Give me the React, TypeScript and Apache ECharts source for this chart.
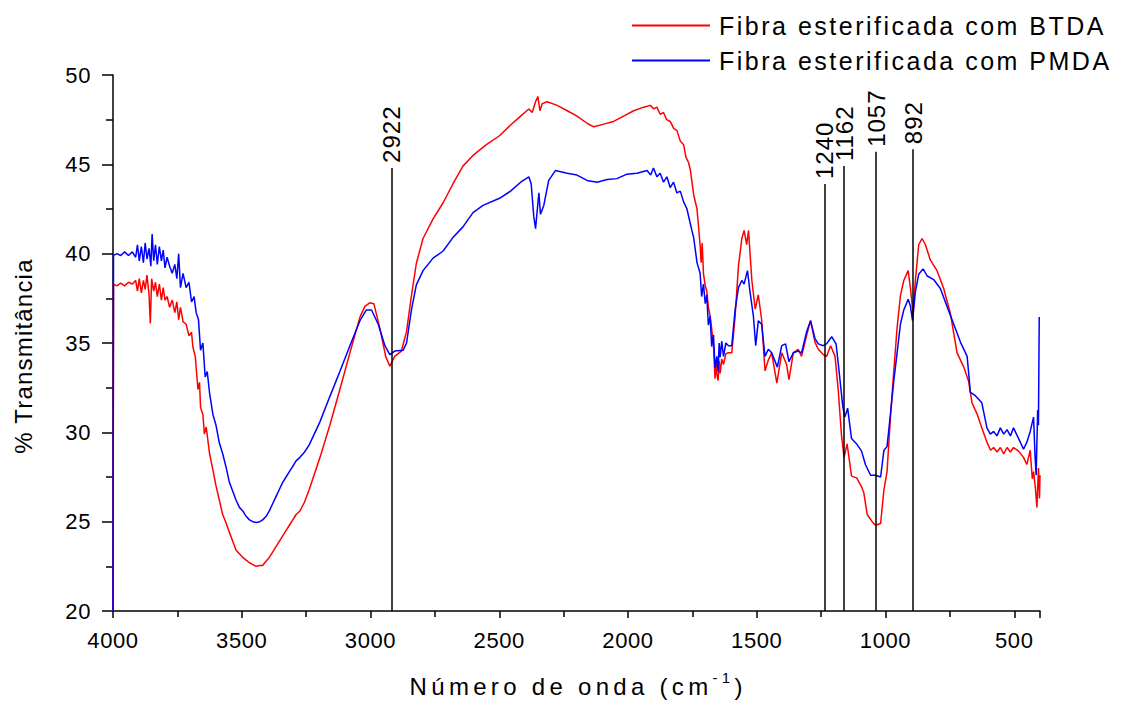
import React, { useEffect, useRef } from 'react';
import * as echarts from 'echarts';

const seriesNames = ['Fibra esterificada com BTDA', 'Fibra esterificada com PMDA'];

const btdaWavenumber = [
  4000, 3998, 3985, 3970, 3955, 3940, 3925, 3912, 3905, 3898, 3890, 3882, 3875, 3868, 3860, 3855, 3850,
  3842, 3835, 3828, 3820, 3812, 3805, 3798, 3790, 3780, 3770, 3760, 3752, 3745, 3738, 3728, 3716, 3705,
  3695, 3690, 3680, 3677, 3670, 3664, 3660, 3651, 3645, 3638, 3625, 3612, 3600, 3587, 3574, 3560, 3548,
  3535, 3522, 3509, 3496, 3483, 3470, 3457, 3444, 3430, 3419, 3405, 3393, 3380, 3367, 3354, 3341, 3328,
  3315, 3302, 3289, 3274, 3256, 3238, 3196, 3158, 3119, 3080, 3041, 3022, 3003, 2987, 2964, 2941, 2925,
  2906, 2880, 2860, 2841, 2822, 2796, 2757, 2718, 2680, 2641, 2602, 2550, 2499, 2456, 2417, 2385, 2372,
  2359, 2350, 2342, 2333, 2314, 2275, 2236, 2198, 2159, 2133, 2094, 2056, 2017, 1978, 1939, 1913, 1900,
  1888, 1875, 1862, 1850, 1836, 1822, 1810, 1797, 1784, 1775, 1765, 1758, 1745, 1732, 1720, 1716, 1712,
  1707, 1700, 1694, 1688, 1681, 1675, 1668, 1662, 1658, 1655, 1650, 1646, 1642, 1636, 1629, 1620, 1610,
  1597, 1584, 1571, 1558, 1549, 1539, 1532, 1519, 1506, 1494, 1481, 1468, 1455, 1442, 1422, 1403, 1384,
  1375, 1358, 1339, 1326, 1306, 1291, 1274, 1261, 1242, 1229, 1213, 1196, 1184, 1171, 1161, 1149, 1132,
  1112, 1093, 1084, 1071, 1052, 1039, 1019, 1006, 994, 981, 968, 955, 942, 929, 912, 903, 893, 884, 871,
  858, 845, 826, 800, 774, 748, 722, 696, 677, 664, 645, 626, 606, 592, 580, 567, 554, 541, 528, 515, 503,
  483, 464, 451, 438, 430, 425, 418, 412, 406, 402, 400,
];
const btdaTransmittance = [
  20, 38.3, 38.2, 38.35, 38.2, 38.4, 38.3, 38.5, 37.9, 38.6, 37.8, 38.5, 38.0, 38.8, 37.7, 36.1, 38.6,
  37.9, 38.4, 37.6, 38.3, 37.4, 38.1, 37.4, 37.6, 37.0, 37.4, 36.7, 37.3, 36.3, 37.0, 36.2, 36.05, 35.4,
  35.6, 34.8, 34.2, 33.6, 32.4, 32.8, 31.4, 31.0, 29.9, 30.3, 28.8, 27.9, 27.0, 26.2, 25.4, 24.9, 24.4,
  23.9, 23.4, 23.2, 23.0, 22.85, 22.7, 22.6, 22.5, 22.55, 22.55, 22.8, 23.0, 23.3, 23.6, 23.9, 24.2, 24.5,
  24.8, 25.1, 25.4, 25.6, 26.1, 26.8, 28.6, 30.4, 32.4, 34.45, 36.45, 37.05, 37.25, 37.2, 35.85, 34.25, 33.7,
  34.25, 34.55, 35.65, 37.65, 39.45, 40.85, 41.95, 42.85, 43.9, 44.9, 45.5, 46.1, 46.6, 47.2, 47.7, 48.1, 47.9,
  48.5, 48.8, 48.0, 48.4, 48.5, 48.3, 48.0, 47.7, 47.3, 47.1, 47.25, 47.4, 47.7, 48.0, 48.2, 48.3, 48.1,
  48.2, 47.8, 47.9, 47.5, 47.4, 47.0, 46.9, 46.3, 46.1, 45.4, 45.1, 44.7, 43.3, 42.5, 40.5, 39.5, 40.6,
  38.9, 38.2, 37.9, 37.0, 36.5, 35.8, 34.85, 33.0, 34.0, 33.25, 32.9, 34.0, 33.3, 34.1, 33.8, 34.4, 34.45,
  34.45, 36.5, 39.3, 40.85, 41.3, 40.5, 41.3, 38.5, 36.9, 37.7, 36.3, 33.45, 34.05, 34.45, 32.75, 34.45, 33.8,
  32.95, 34.45, 34.65, 34.25, 35.45, 36.25, 35.05, 34.65, 34.35, 34.25, 34.85, 34.25, 32.45, 29.85, 28.6, 29.35, 27.55,
  27.45, 26.95, 26.6, 25.4, 25.0, 24.8, 24.9, 26.8, 27.8, 30.8, 33.4, 35.85, 37.65, 38.5, 39.05, 38.05, 36.65, 38.5, 40.5,
  40.85, 40.5, 39.65, 39.05, 38.05, 36.65, 34.45, 33.65, 32.85, 31.65, 31.05, 30.25, 29.45, 29.0, 29.15, 28.9, 29.15, 28.8, 29.15, 28.9, 29.15,
  28.95, 28.6, 28.2, 29.0, 27.4, 27.8, 26.9, 25.8, 28.0, 26.3, 27.6,
];

const pmdaWavenumber = [
  4000, 3998, 3985, 3970, 3955, 3940, 3925, 3912, 3905, 3898, 3890, 3882, 3875, 3868, 3860, 3853, 3848,
  3842, 3835, 3828, 3820, 3812, 3805, 3798, 3790, 3780, 3770, 3760, 3752, 3745, 3738, 3728, 3716, 3705,
  3695, 3685, 3677, 3668, 3660, 3651, 3642, 3634, 3625, 3612, 3600, 3587, 3574, 3560, 3548, 3535, 3522,
  3509, 3496, 3483, 3470, 3457, 3444, 3430, 3419, 3405, 3393, 3380, 3367, 3354, 3341, 3328, 3315, 3302,
  3289, 3274, 3256, 3238, 3196, 3158, 3119, 3080, 3041, 3016, 2996, 2970, 2944, 2925, 2906, 2873, 2860,
  2841, 2822, 2796, 2757, 2718, 2680, 2641, 2602, 2563, 2499, 2456, 2417, 2385, 2376, 2366, 2359, 2352,
  2346, 2340, 2327, 2308, 2282, 2236, 2198, 2159, 2120, 2081, 2043, 2004, 1965, 1926, 1912, 1901, 1888,
  1875, 1862, 1849, 1836, 1823, 1810, 1797, 1784, 1771, 1760, 1752, 1745, 1732, 1720, 1714, 1707, 1700,
  1694, 1688, 1681, 1675, 1668, 1662, 1655, 1650, 1646, 1642, 1636, 1629, 1620, 1610, 1597, 1584, 1571,
  1558, 1549, 1536, 1526, 1513, 1504, 1494, 1481, 1468, 1455, 1442, 1420, 1403, 1388, 1375, 1358, 1339,
  1326, 1306, 1291, 1274, 1261, 1242, 1229, 1209, 1192, 1179, 1166, 1158, 1147, 1132, 1112, 1093, 1078,
  1058, 1039, 1019, 1006, 994, 981, 968, 955, 942, 929, 912, 903, 895, 884, 871, 854, 838, 813, 787, 761,
  735, 709, 683, 675, 671, 651, 626, 606, 593, 580, 567, 554, 541, 528, 515, 503, 483, 464, 451, 438, 425,
  419, 415, 409, 406, 403,
];
const pmdaTransmittance = [
  20, 39.9, 40.0, 39.9, 40.1, 39.9, 40.1, 39.8, 40.5, 39.6, 40.4, 39.5, 40.6, 39.7, 40.3, 39.3, 41.1,
  39.6, 40.5, 39.4, 40.4, 39.6, 40.2, 39.2, 39.8, 39.3, 38.9, 39.4, 38.6, 40.0, 38.1, 38.9, 38.1, 38.4,
  37.3, 37.6, 36.7, 36.3, 34.6, 35.0, 33.1, 33.4, 32.2, 31.0, 30.4, 29.4, 28.8, 28.0, 27.2, 26.7, 26.2,
  25.8, 25.6, 25.3, 25.1, 25.0, 24.95, 25.0, 25.1, 25.3, 25.6, 26.0, 26.4, 26.8, 27.2, 27.5, 27.8, 28.1,
  28.4, 28.6, 28.9, 29.3, 30.6, 32.0, 33.4, 34.85, 36.25, 36.85, 36.85, 36.05, 34.85, 34.35, 34.55, 34.6, 35.0,
  36.85, 38.25, 39.05, 39.75, 40.15, 40.9, 41.5, 42.3, 42.7, 43.1, 43.5, 44.0, 44.3, 43.9, 42.1, 41.4, 42.5,
  43.4, 42.2, 42.7, 44.1, 44.65, 44.5, 44.4, 44.1, 44.0, 44.15, 44.2, 44.45, 44.5, 44.65, 44.4, 44.8, 44.3,
  44.5, 44.0, 44.3, 43.7, 44.0, 43.4, 43.5, 42.9, 42.5, 41.8, 41.3, 40.9, 39.5, 38.9, 37.6, 38.3, 37.2,
  37.7, 36.0, 36.5, 34.8, 35.45, 33.6, 34.25, 33.4, 35.0, 34.2, 35.1, 34.25, 35.0, 34.85, 34.85, 36.85, 38.1,
  38.5, 38.3, 39.05, 37.85, 36.5, 34.85, 36.25, 36.05, 34.25, 34.65, 34.45, 33.65, 34.85, 34.95, 33.95, 34.45, 34.55,
  34.45, 35.65, 36.25, 35.25, 34.95, 34.85, 34.95, 35.35, 34.95, 33.25, 31.45, 30.85, 31.35, 29.65, 29.35, 28.95, 28.2,
  27.6, 27.6, 27.5, 29.0, 29.2, 31.0, 32.85, 34.45, 36.05, 36.85, 37.45, 37.05, 36.25, 37.85, 38.85, 39.15, 38.75, 38.55, 38.05, 37.05,
  36.05, 35.05, 34.25, 33.0, 32.25, 32.05, 31.65, 30.25, 29.9, 30.05, 29.8, 30.25, 29.9, 30.15, 29.8, 30.25, 29.65, 29.05, 29.45, 30.05, 30.85,
  28.6, 27.6, 31.25, 30.4, 36.45,
];

const peakPositions = [2917, 1236, 1161, 1036, 893];
const peakTops = [44.8, 43.9, 44.9, 45.7, 45.85];
const peakLabels = ['2922', '1240', '1162', '1057', '892'];

const xTitleMain = 'Número de onda (cm';
const xTitleSup = '-1';
const xTitleEnd = ')';
const yTitle = '% Transmitância';

const FONT = '"Liberation Sans", Arial, sans-serif';
const TITLE_SPACING = 4.3;
const TITLE_SIZE = 24;
const SUP_SIZE = 15;

const spacingFor = (s: string): number => {
  if (s.startsWith('Fibra')) return 2.5;
  if (s === yTitle) return 1.2;
  if (s === xTitleMain || s === xTitleSup || s === xTitleEnd) return TITLE_SPACING;
  if (peakLabels.includes(s)) return 1;
  if (/^\d+$/.test(s)) return 0.6;
  return 0;
};

function applySpacing(root: HTMLElement) {
  const texts = Array.from(root.querySelectorAll('text')) as SVGTextElement[];
  for (const t of texts) {
    const sp = spacingFor(t.textContent || '');
    if (sp) t.style.letterSpacing = sp + 'px';
  }
}

export default function App() {
  const ref = useRef<HTMLDivElement>(null);
  useEffect(() => {
    if (!ref.current) return;
    const chart = echarts.init(ref.current, undefined, { renderer: 'svg' });
    const btda = btdaWavenumber.map((w, i) => [w, btdaTransmittance[i]]);
    const pmda = pmdaWavenumber.map((w, i) => [w, pmdaTransmittance[i]]);

    const mctx = document.createElement('canvas').getContext('2d') as CanvasRenderingContext2D;
    mctx.font = `${TITLE_SIZE}px "Liberation Sans"`;
    const wMain = mctx.measureText(xTitleMain).width + xTitleMain.length * TITLE_SPACING;
    const wEnd = mctx.measureText(xTitleEnd).width;
    mctx.font = `${SUP_SIZE}px "Liberation Sans"`;
    const wSup = mctx.measureText(xTitleSup).width + xTitleSup.length * TITLE_SPACING;
    const total = wMain + wSup + wEnd;
    const cx = 576;
    const x0 = cx - total / 2;
    const baseY = 698;

    chart.setOption({
      animation: false,
      backgroundColor: '#ffffff',
      textStyle: { fontFamily: FONT, color: '#000' },
      grid: { left: 113, right: 82, top: 75, bottom: 92 },
      legend: {
        orient: 'vertical',
        left: 627,
        top: 3,
        itemWidth: 78,
        itemHeight: 2,
        itemGap: 0,
        icon: 'rect',
        data: seriesNames,
        textStyle: { fontSize: 25, color: '#000', fontFamily: FONT, lineHeight: 35, padding: [0, 0, 0, 4] },
      },
      graphic: [
        {
          type: 'text',
          x: x0,
          y: baseY,
          style: { text: xTitleMain, fontSize: TITLE_SIZE, fontFamily: FONT, fill: '#000', align: 'left', verticalAlign: 'bottom' },
        },
        {
          type: 'text',
          x: x0 + wMain,
          y: baseY - 28,
          style: { text: xTitleSup, fontSize: SUP_SIZE, fontFamily: FONT, fill: '#000', align: 'left', verticalAlign: 'top' },
        },
        {
          type: 'text',
          x: x0 + wMain + wSup,
          y: baseY,
          style: { text: xTitleEnd, fontSize: TITLE_SIZE, fontFamily: FONT, fill: '#000', align: 'left', verticalAlign: 'bottom' },
        },
      ],
      xAxis: {
        type: 'value',
        inverse: true,
        min: 400,
        max: 4000,
        splitNumber: 7,
        axisLine: { show: true, onZero: false, lineStyle: { color: '#000', width: 1.5 } },
        axisTick: { show: true, length: 7, lineStyle: { color: '#000', width: 1.5 } },
        minorTick: { show: true, splitNumber: 2, length: 6, lineStyle: { color: '#000', width: 1.5 } },
        axisLabel: {
          fontSize: 22,
          color: '#000',
          margin: 18,
          fontFamily: FONT,
          showMinLabel: false,
          formatter: (v: number) => String(v),
        },
        splitLine: { show: false },
      },
      yAxis: {
        type: 'value',
        min: 20,
        max: 50,
        interval: 5,
        name: yTitle,
        nameLocation: 'middle',
        nameRotate: 90,
        nameGap: 78,
        nameTextStyle: { fontSize: 24, color: '#000', fontFamily: FONT, padding: [0, 26, 0, 0] },
        axisLine: { show: true, onZero: false, lineStyle: { color: '#000', width: 1.5 } },
        axisTick: { show: true, length: 11, lineStyle: { color: '#000', width: 1.5 } },
        minorTick: { show: true, splitNumber: 2, length: 7, lineStyle: { color: '#000', width: 1.5 } },
        axisLabel: { fontSize: 22, color: '#000', margin: 22, fontFamily: FONT, formatter: (v: number) => String(v) },
        splitLine: { show: false },
      },
      series: [
        {
          name: seriesNames[0],
          type: 'line',
          data: btda,
          symbol: 'none',
          color: '#ff0000',
          lineStyle: { color: '#ff0000', width: 1.5 },
          z: 2,
        },
        {
          name: seriesNames[1],
          type: 'line',
          data: pmda,
          symbol: 'none',
          color: '#0000ff',
          lineStyle: { color: '#0000ff', width: 1.5 },
          z: 3,
        },
        {
          name: 'peaks',
          type: 'scatter',
          data: peakPositions.map((p, i) => [p, peakTops[i]]),
          symbolSize: 0,
          itemStyle: { opacity: 1 },
          z: 5,
          label: {
            show: true,
            position: 'top',
            distance: 5,
            rotate: 90,
            align: 'left',
            verticalAlign: 'middle',
            fontSize: 24,
            color: '#000',
            opacity: 1,
            fontFamily: FONT,
            formatter: (p: any) => peakLabels[p.dataIndex],
          },
          markLine: {
            silent: true,
            symbol: ['none', 'none'],
            label: { show: false },
            lineStyle: { color: '#000', width: 1.5, type: 'solid', opacity: 1 },
            data: peakPositions.map((p, i) => [{ coord: [p, 20] }, { coord: [p, peakTops[i]] }]),
          },
        },
      ],
    });
    applySpacing(ref.current);
    const timer = setTimeout(() => ref.current && applySpacing(ref.current), 50);
    return () => {
      clearTimeout(timer);
      chart.dispose();
    };
  }, []);
  return <div ref={ref} style={{ width: 1122, height: 703, position: 'absolute', left: 0, top: 0 }} />;
}
